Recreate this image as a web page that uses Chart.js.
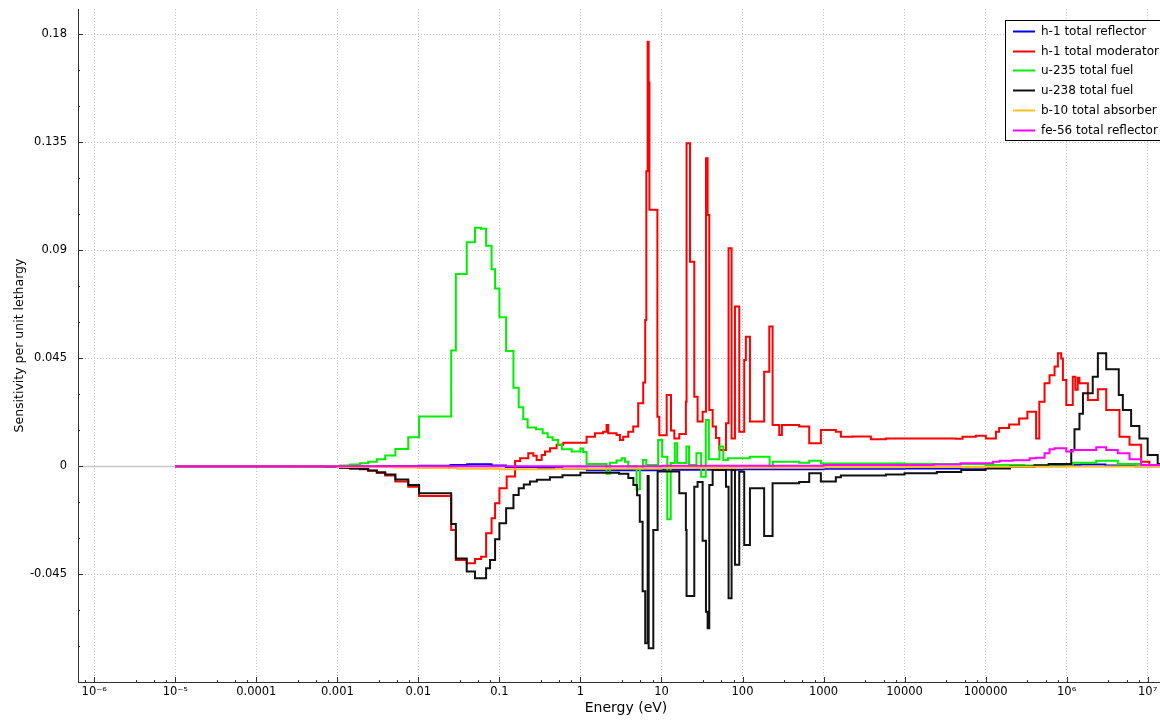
<!DOCTYPE html>
<html><head><meta charset="utf-8">
<script src="https://cdn.jsdelivr.net/npm/chart.js@4.4.0/dist/chart.umd.min.js"></script>
<style>html,body{margin:0;padding:0;background:#fff;}canvas{display:block;}</style>
</head><body>
<canvas id="c" width="1160" height="720"></canvas>
<script>
// ---------------- DATA ----------------
const seriesNames = ['h-1 total reflector','h-1 total moderator','u-235 total fuel','u-238 total fuel','b-10 total absorber','fe-56 total reflector'];
const seriesColors = ['#0000ff','#ff0000','#00ee00','#111111','#ffc020','#ff00ff'];

const xTickValues = [1e-6,1e-5,1e-4,1e-3,1e-2,1e-1,1,10,100,1000,10000,100000,1e6,1e7];
const xTickLabels = ['10\u207B\u2076','10\u207B\u2075','0.0001','0.001','0.01','0.1','1','10','100','1000','10000','100000','10\u2076','10\u2077'];
const yTickValues = [-0.045,0,0.045,0.09,0.135,0.18];
const yTickLabels = ['-0.045','0','0.045','0.09','0.135','0.18'];
const xAxisTitle = 'Energy (eV)';
const yAxisTitle = 'Sensitivity per unit lethargy';

// group edges (eV) and value per group (value i spans E[i]..E[i+1])
const h1RefE = [1e-5,0.003,0.01,0.025,0.04,0.08,0.12,0.3,0.6,1.2,10,100,1e3,1e4,5e4,1.5e5,4e5,8e5,1.5e6,3e6,7e6,2e7];
const h1RefV = [0,0.0001,0.0003,0.0006,0.0009,0.0004,-0.0002,-0.0006,-0.001,-0.0016,-0.0014,-0.0012,-0.001,-0.0008,-0.0005,-0.0002,0.0002,0.0006,0.0008,0.0004,0.0001];

const h1ModE = [1e-5,3e-4,7.4e-4,1.08e-3,1.44e-3,1.9e-3,2.4e-3,3.07e-3,3.9e-3,5.2e-3,7.5e-3,0.0102,0.0254,0.029,0.0395,0.05,0.0594,0.0685,0.080,0.0884,0.1,0.123,0.156,0.18,0.227,0.262,0.288,0.332,0.365,0.421,0.508,0.614,1.19,1.51,1.91,2.1,2.2,2.79,3.07,3.37,3.89,4.48,5.16,5.95,6.3,6.5,6.75,6.95,7.1,8.9,9.4,11.6,13.1,14.4,16.6,20.0,20.4,22.5,25.4,27.9,32.2,35.4,37.1,38.9,42.8,47,51.7,62.5,67.3,73.3,80.7,91.2,105,110,123.5,185,214,235,284,306,500,666,927,1419,1636,2277,3837,5876,42950,51900,75700,1.006e5,1.34e5,1.47e5,1.95e5,2.59e5,3.28e5,4.2e5,4.6e5,5.34e5,6.15e5,7.1e5,7.8e5,8.57e5,9.0e5,9.9e5,1.19e6,1.28e6,1.37e6,1.44e6,1.83e6,2.43e6,3.08e6,4.49e6,5.97e6,8.3e6,1.05e7,2e7];
const h1ModV = [0,-0.00005,-0.0002,-0.0005,-0.0008,-0.0012,-0.0018,-0.0027,-0.0038,-0.0063,-0.0084,-0.0123,-0.0265,-0.039,-0.0403,-0.0386,-0.0376,-0.0278,-0.0216,-0.0153,-0.0091,-0.0042,0.0023,0.0034,0.0055,0.0045,0.0027,0.0048,0.0062,0.0076,0.009,0.0099,0.0124,0.0138,0.0145,0.0173,0.0138,0.0131,0.011,0.0124,0.0145,0.0166,0.0263,0.035,0.061,0.123,0.177,0.160,0.107,0.0207,0.013,0.0298,0.015,0.0117,0.0135,0.027,0.1347,0.0853,0.029,0.0187,0.0228,0.1284,0.1048,0.0235,0.0166,0.0119,0.0069,0.018,0.0909,0.0117,0.0666,0.0145,0.0444,0.054,0.0187,0.0395,0.0583,0.0173,0.0131,0.0173,0.0166,0.0097,0.0152,0.0145,0.0124,0.0125,0.0113,0.0117,0.0115,0.0124,0.0128,0.0117,0.0145,0.016,0.0175,0.020,0.0228,0.0117,0.027,0.0347,0.038,0.0416,0.0472,0.045,0.036,0.0256,0.0374,0.032,0.037,0.0347,0.0277,0.0322,0.0235,0.0124,0.009,0.002,0.0006];

const u235E = [1e-5,3e-4,7.4e-4,1.08e-3,1.44e-3,1.9e-3,2.4e-3,3.07e-3,3.9e-3,5.2e-3,7.5e-3,0.0102,0.0254,0.029,0.0395,0.05,0.0594,0.0685,0.080,0.0884,0.1,0.121,0.149,0.173,0.197,0.223,0.283,0.342,0.394,0.454,0.53,0.59,0.78,1.0,1.08,1.19,2.1,2.31,2.79,3.22,3.54,3.89,4.93,5.42,5.9,6.5,9.1,10.2,11.8,13,14.6,15.6,20.3,21.9,27,30.9,35.2,38.4,52,58,66,123,216,237,500,666,927,1e4,1e5,3e5,6.1e5,1.19e6,2.32e6,4.28e6,7.9e6,2e7];
const u235V = [0,0.00005,0.0002,0.0004,0.0008,0.0013,0.002,0.003,0.0046,0.0073,0.0122,0.0208,0.0483,0.0802,0.0934,0.0995,0.099,0.092,0.0822,0.0741,0.0622,0.0481,0.0328,0.0247,0.0197,0.0162,0.0155,0.0138,0.0122,0.011,0.009,0.0072,0.0062,0.0075,0.006,0.001,-0.003,0.0016,0.0025,0.0034,0.002,0.0,-0.0095,-0.0008,0.0027,0.0006,0.011,0.004,-0.022,0.0014,0.0097,0.0014,0.0083,0.0006,0.0055,-0.0043,0.0194,0.003,0.0083,0.0027,0.0034,0.004,0.0,0.002,0.0015,0.0024,0.0012,0.001,0.0006,0.0004,0.0008,0.0016,0.0024,0.001,0.0002];

const u238E = [1e-5,3e-4,7.4e-4,1.08e-3,1.44e-3,1.9e-3,2.4e-3,3.07e-3,3.9e-3,5.2e-3,7.5e-3,0.0102,0.0254,0.029,0.0395,0.05,0.0685,0.0766,0.0884,0.1,0.121,0.149,0.173,0.2,0.238,0.29,0.42,0.6,1.0,3.0,3.9,4.5,5.0,5.4,5.85,6.3,6.75,6.95,7.93,8.96,16.6,20.0,20.4,25.4,27.9,32.2,35.4,37.1,38.9,42.8,62.5,67.3,73.3,80.7,91.2,105,123.5,185,235,500,666,927,1419,1636,5876,1e4,2.5e4,5e4,1e5,2e5,4e5,6e5,1.14e6,1.25e6,1.44e6,1.59e6,2.1e6,2.43e6,3.08e6,4.4e6,4.94e6,6.25e6,7.9e6,1.0e7,1.33e7,2e7];
const u238V = [0,-0.00005,-0.0002,-0.0005,-0.0008,-0.0011,-0.0017,-0.0024,-0.0033,-0.0054,-0.0077,-0.0112,-0.024,-0.0383,-0.0438,-0.0466,-0.0424,-0.039,-0.0303,-0.0237,-0.0174,-0.0119,-0.0091,-0.0075,-0.0063,-0.0055,-0.0045,-0.0037,-0.0026,-0.003,-0.0048,-0.0077,-0.012,-0.023,-0.052,-0.0737,-0.004,-0.0757,-0.0265,-0.0021,-0.0112,-0.0265,-0.054,-0.0084,-0.0065,-0.031,-0.0605,-0.0674,-0.0077,-0.0015,-0.0084,-0.0549,-0.0015,-0.041,-0.0022,-0.0327,-0.0091,-0.029,-0.007,-0.0065,-0.0028,-0.0063,-0.0045,-0.0038,-0.0033,-0.0028,-0.0023,-0.0015,-0.0008,0.0,0.0005,0.001,0.0069,0.0155,0.022,0.0305,0.0374,0.0472,0.0405,0.0298,0.0235,0.0169,0.0117,0.0048,0.001];

const b10E = [1e-5,1e-3,0.005,0.01,0.03,0.1,0.5,2,10,100,1e3,1e4,1e5,1e6,2e7];
const b10V = [0,-0.0002,-0.0004,-0.0006,-0.001,-0.0012,-0.001,-0.0008,-0.0006,-0.0005,-0.0003,-0.0002,-0.0001,0];

const fe56E = [1e-5,10,1e3,2.3e4,4.9e4,1.23e5,1.49e5,2.17e5,3.5e5,4.2e5,5.34e5,6.15e5,7.1e5,9.9e5,1.19e6,2.32e6,3.08e6,4.28e6,5.97e6,8.3e6,2e7];
const fe56V = [0.0001,0.0003,0.0006,0.0008,0.0013,0.002,0.0024,0.0026,0.0034,0.0036,0.0055,0.0072,0.0076,0.0062,0.0069,0.008,0.0069,0.0055,0.003,0.0006];

// ---------------- CHART ----------------
function steps(E, V){ return E.map((e,i)=>({x:e, y:V[Math.min(i, V.length-1)]})); }
const seriesData = [steps(h1RefE,h1RefV), steps(h1ModE,h1ModV), steps(u235E,u235V), steps(u238E,u238V), steps(b10E,b10V), steps(fe56E,fe56V)];

const FONT = '"DejaVu Sans", Verdana, sans-serif';

const decor = {
  id: 'decor',
  beforeDatasetsDraw(chart){
    const {ctx, chartArea:a, scales:{y}} = chart;
    const y0 = Math.round(y.getPixelForValue(0)) + 0.5;
    ctx.save();
    ctx.strokeStyle = '#c8c8c8'; ctx.lineWidth = 1.5;
    ctx.beginPath(); ctx.moveTo(a.left, y0); ctx.lineTo(a.right, y0); ctx.stroke();
    ctx.restore();
  },
  afterDatasetsDraw(chart){
    const {ctx, chartArea:a, scales:{x, y}} = chart;
    ctx.save();
    ctx.strokeStyle = '#303030'; ctx.lineWidth = 1;
    ctx.beginPath();
    for (let n = -7; n <= 7; n++){
      const p = Math.pow(10, n);
      const mp = x.getPixelForValue(p);
      if (mp >= a.left && mp <= a.right){ const px = Math.round(mp)+0.5; ctx.moveTo(px, a.bottom); ctx.lineTo(px, a.bottom-5); }
      [3.25, 5.5, 7.75].forEach(m => {
        const q = x.getPixelForValue(m*p);
        if (q >= a.left && q <= a.right){ const px = Math.round(q)+0.5; ctx.moveTo(px, a.bottom); ctx.lineTo(px, a.bottom-2); }
      });
    }
    for (let k = -6; k <= 13; k++){
      const v = k*0.015;
      const q = y.getPixelForValue(v);
      if (q < a.top || q > a.bottom) continue;
      const py = Math.round(q)+0.5;
      const major = (k % 3 === 0);
      ctx.moveTo(a.left, py); ctx.lineTo(a.left + (major ? 5 : 2), py);
    }
    ctx.stroke();

    // x axis title
    ctx.fillStyle = '#000';
    ctx.font = '14px ' + FONT;
    ctx.textAlign = 'center'; ctx.textBaseline = 'middle';
    ctx.fillText(xAxisTitle, 626, 708);

    // legend
    const lx = 1005.5, ly = 20.5;
    ctx.fillStyle = '#ffffff';
    ctx.fillRect(lx, ly, 170, 120);
    ctx.strokeStyle = '#000000'; ctx.lineWidth = 1;
    ctx.strokeRect(lx, ly, 170, 120);
    ctx.font = '12px ' + FONT;
    ctx.textAlign = 'left'; ctx.textBaseline = 'middle';
    seriesNames.forEach((name, i) => {
      const yy = Math.round(31 + i*19.7) + 0.5;
      ctx.strokeStyle = seriesColors[i]; ctx.lineWidth = 2;
      ctx.beginPath(); ctx.moveTo(1013, yy); ctx.lineTo(1035, yy); ctx.stroke();
      ctx.fillStyle = '#000000';
      ctx.fillText(name, 1041, yy);
    });
    ctx.restore();
  }
};

const orders = [6,5,4,3,2,1];
new Chart(document.getElementById('c'), {
  type: 'line',
  data: {
    datasets: seriesData.map((d, i) => ({
      label: seriesNames[i],
      data: d,
      borderColor: seriesColors[i],
      backgroundColor: seriesColors[i],
      borderWidth: 2,
      pointRadius: 0,
      fill: false,
      stepped: 'before',
      tension: 0,
      order: orders[i]
    }))
  },
  options: {
    responsive: false,
    animation: false,
    events: [],
    layout: { padding: { top: 9, right: 0, left: 0, bottom: 0 } },
    plugins: { legend: { display: false }, tooltip: { enabled: false } },
    scales: {
      x: {
        type: 'logarithmic',
        min: 6.3e-7, max: 1.42e7,
        afterFit(s){ s.height = 38; s.paddingLeft = 0; s.paddingRight = 0; },
        afterBuildTicks(s){ s.ticks = xTickValues.map(v => ({value: v})); },
        ticks: {
          autoSkip: false, maxRotation: 0, padding: 3, color: '#000',
          font: { family: FONT, size: 11.5 },
          callback: (v, i) => xTickLabels[i]
        },
        grid: { color: '#c8c8c8', lineWidth: 1, drawTicks: false },
        border: { display: true, color: '#303030', width: 1, dash: [1,2] },
        title: { display: false }
      },
      y: {
        type: 'linear',
        min: -0.0898, max: 0.1906,
        afterFit(s){ s.width = 78; s.paddingTop = 0; s.paddingBottom = 0; },
        afterBuildTicks(s){ s.ticks = yTickValues.map(v => ({value: v})); },
        ticks: {
          autoSkip: false, padding: 11, color: '#000',
          font: { family: FONT, size: 11.5 },
          callback: (v, i) => yTickLabels[i]
        },
        grid: { color: '#c8c8c8', lineWidth: 1, drawTicks: false },
        border: { display: true, color: '#303030', width: 1, dash: [1,2] },
        title: { display: true, text: yAxisTitle, color: '#000', font: { family: FONT, size: 12.5 }, padding: { top: 12, bottom: 0 } }
      }
    }
  },
  plugins: [decor]
});
</script>
</body></html>
